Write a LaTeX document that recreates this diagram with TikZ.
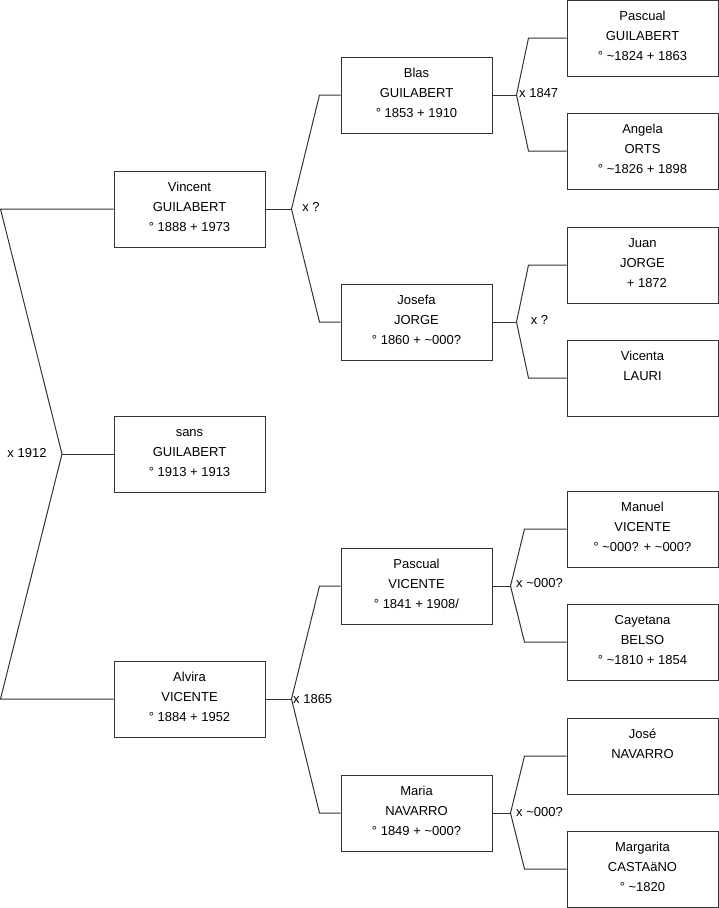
\documentclass[tikz,border=0pt]{standalone}
\usepackage{fontspec}
\setmainfont{Liberation Sans}
\newcommand{\rowstrut}{\rule[-7.5pt]{0pt}{20pt}}
\newcommand{\tld}{\textasciitilde}
\newcommand{\who}[3]{\rowstrut #1\\\rowstrut #2\\\rowstrut #3}
\begin{document}
\begin{tikzpicture}[x=1pt,y=-1pt,
  person/.style={draw=black!80, line width=1pt, fill=white, minimum width=151pt,
    minimum height=76pt, inner sep=0pt, align=center, font=\fontsize{13}{20}\selectfont},
  link/.style={draw=black!80, line width=1pt},
  union/.style={font=\fontsize{13}{20}\selectfont, inner sep=0pt}]
\useasboundingbox (0,0) rectangle (719,908);
% children
\node[person] (vincent) at (189.5,209) {\who{Vincent}{GUILABERT}{° 1888 + 1973}};
\node[person] (sans) at (189.5,454) {\who{sans}{GUILABERT}{° 1913 + 1913}};
\node[person] (alvira) at (189.5,699) {\who{Alvira}{VICENTE}{° 1884 + 1952}};
% parents
\node[person] (blas) at (416.5,95) {\who{Blas}{GUILABERT}{° 1853 + 1910}};
\node[person] (josefa) at (416.5,322) {\who{Josefa}{JORGE}{° 1860 + \tld000?}};
\node[person] (pascualv) at (416.5,586) {\who{Pascual}{VICENTE}{° 1841 + 1908/}};
\node[person] (maria) at (416.5,813) {\who{Maria}{NAVARRO}{° 1849 + \tld000?}};
% grandparents
\node[person] (pascualg) at (642.5,38) {\who{Pascual}{GUILABERT}{° \tld1824 + 1863}};
\node[person] (angela) at (642.5,151) {\who{Angela}{ORTS}{° \tld1826 + 1898}};
\node[person] (juan) at (642.5,265) {\who{Juan}{JORGE}{\hphantom{°}~+ 1872}};
\node[person] (vicenta) at (642.5,378) {\who{Vicenta}{LAURI}{}};
\node[person] (manuel) at (642.5,529) {\who{Manuel}{VICENTE}{° \tld000? + \tld000?}};
\node[person] (cayetana) at (642.5,642) {\who{Cayetana}{BELSO}{° \tld1810 + 1854}};
\node[person] (jose) at (642.5,756) {\who{José}{NAVARRO}{}};
\node[person] (margarita) at (642.5,869) {\who{Margarita}{CASTAäNO}{° \tld1820}};
% couple forks
\coordinate (m0) at (62,454);
\coordinate (m1) at ([xshift=26pt]vincent.east);
\coordinate (m2) at ([xshift=26pt]alvira.east);
\coordinate (m3) at ([xshift=24pt]blas.east);
\coordinate (m4) at ([xshift=24pt]josefa.east);
\coordinate (m5) at ([xshift=18pt]pascualv.east);
\coordinate (m6) at ([xshift=18pt]maria.east);
\draw[link] (vincent.west) -- ([xshift=-113pt]vincent.west) -- (m0)
  -- ([xshift=-113pt]alvira.west) -- (alvira.west);
\draw[link] (m0) -- (sans.west);
\draw[link] (vincent.east) -- (m1);
\draw[link] (blas.west) -- ([xshift=-21pt]blas.west) -- (m1)
  -- ([xshift=-21pt]josefa.west) -- (josefa.west);
\draw[link] (alvira.east) -- (m2);
\draw[link] (pascualv.west) -- ([xshift=-21pt]pascualv.west) -- (m2)
  -- ([xshift=-21pt]maria.west) -- (maria.west);
\draw[link] (blas.east) -- (m3);
\draw[link] (pascualg.west) -- ([xshift=-38pt]pascualg.west) -- (m3)
  -- ([xshift=-38pt]angela.west) -- (angela.west);
\draw[link] (josefa.east) -- (m4);
\draw[link] (juan.west) -- ([xshift=-38pt]juan.west) -- (m4)
  -- ([xshift=-38pt]vicenta.west) -- (vicenta.west);
\draw[link] (pascualv.east) -- (m5);
\draw[link] (manuel.west) -- ([xshift=-42pt]manuel.west) -- (m5)
  -- ([xshift=-42pt]cayetana.west) -- (cayetana.west);
\draw[link] (maria.east) -- (m6);
\draw[link] (jose.west) -- ([xshift=-42pt]jose.west) -- (m6)
  -- ([xshift=-42pt]margarita.west) -- (margarita.west);
% marriages
\node[union] (x0) at (27,453) {x 1912};
\node[union] (x1) at (311,207) {x ?};
\node[union, anchor=west] (x2) at (293,699) {x 1865};
\node[union, anchor=west] (x3) at (519,93) {x 1847};
\node[union] (x4) at (539.5,320) {x ?};
\node[union, anchor=west] (x5) at (516,583) {x \tld000?};
\node[union, anchor=west] (x6) at (516,812) {x \tld000?};
\end{tikzpicture}
\end{document}
